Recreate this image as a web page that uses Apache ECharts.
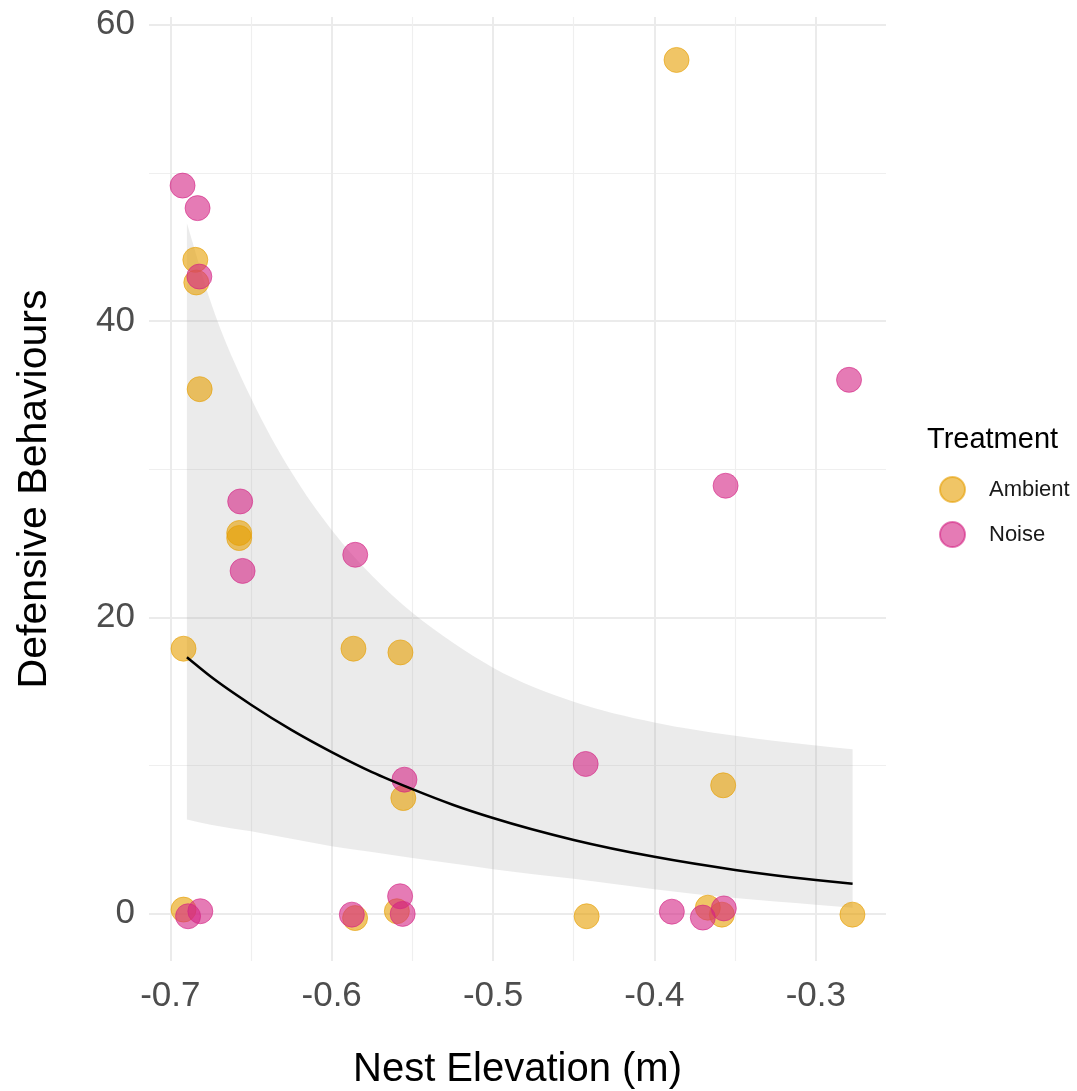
<!DOCTYPE html>
<html>
<head>
<meta charset="utf-8">
<title>Defensive Behaviours vs Nest Elevation</title>
<script src="https://cdn.jsdelivr.net/npm/echarts@6/dist/echarts.min.js"></script>
<style>
  html, body { margin: 0; padding: 0; background: #ffffff; }
  #chart { width: 1077px; height: 1091px; }
</style>
</head>
<body>
<div id="chart"></div>
<script>
// Jittered observations per treatment: [nest elevation (m), defensive behaviours]
const ambientPoints = [
  [-0.3863, 57.62], [-0.6845, 44.13], [-0.6839, 42.60], [-0.6818, 35.40],
  [-0.6573, 25.69], [-0.6573, 25.35], [-0.6918, 17.88], [-0.5865, 17.88],
  [-0.5574, 17.63], [-0.5556, 7.80], [-0.3574, 8.66], [-0.2773, -0.07],
  [-0.4420, -0.18], [-0.6918, 0.27], [-0.5855, -0.30], [-0.5596, 0.16],
  [-0.3669, 0.40], [-0.3582, -0.07]
];
const noisePoints = [
  [-0.6924, 49.14], [-0.6831, 47.62], [-0.6820, 43.00], [-0.6567, 27.82],
  [-0.6552, 23.13], [-0.5854, 24.22], [-0.5549, 9.04], [-0.4426, 10.10],
  [-0.3559, 28.88], [-0.2794, 36.03], [-0.6890, -0.18], [-0.6814, 0.16],
  [-0.5875, -0.07], [-0.5576, 1.17], [-0.5560, -0.02], [-0.3892, 0.13],
  [-0.3700, -0.27], [-0.3570, 0.35]
];

// Fitted trend and its confidence band
const fitX    = [-0.6897, -0.675, -0.65, -0.625, -0.60, -0.575, -0.55, -0.525, -0.50, -0.45, -0.40, -0.35, -0.30, -0.2772];
const fitY    = [17.3, 16.0, 14.1, 12.4, 10.9, 9.55, 8.4, 7.35, 6.45, 4.97, 3.83, 2.95, 2.27, 2.02];
const ciUpper = [46.6, 41.3, 34.8, 29.8, 25.9, 22.8, 20.3, 18.3, 16.6, 14.3, 12.9, 12.0, 11.35, 11.1];
const ciLower = [6.35, 6.0, 5.55, 5.05, 4.55, 4.15, 3.75, 3.38, 3.0, 2.35, 1.65, 1.05, 0.6, 0.4];

const treatments = ['Ambient', 'Noise'];
const treatmentColors = ['#E69F00', '#D42384'];

const xRange = [-0.7132, -0.2565];
const yRange = [-3.2, 60.52];

const FONT = '"Liberation Sans", Arial, Helvetica, sans-serif';

const chart = echarts.init(document.getElementById('chart'), null, { renderer: 'canvas' });

// Cubic Hermite curve through pixel points (x strictly monotone), as bezier path commands
function curveCommands(pts) {
  const n = pts.length;
  const h = [], s = [];
  for (let i = 0; i < n - 1; i++) {
    h.push(pts[i + 1][0] - pts[i][0]);
    s.push((pts[i + 1][1] - pts[i][1]) / h[i]);
  }
  const m = pts.map((p, i) => {
    if (i === 0) return s[0];
    if (i === n - 1) return s[n - 2];
    return (s[i - 1] * h[i] + s[i] * h[i - 1]) / (h[i - 1] + h[i]);
  });
  const segs = [];
  for (let i = 0; i < n - 1; i++) {
    const dx = h[i] / 3;
    segs.push({
      c1: [pts[i][0] + dx, pts[i][1] + m[i] * dx],
      c2: [pts[i + 1][0] - dx, pts[i + 1][1] - m[i + 1] * dx],
      from: pts[i],
      to: pts[i + 1]
    });
  }
  return segs;
}

function forwardPath(segs) {
  return segs.map(g => ' C' + g.c1[0] + ',' + g.c1[1] + ' ' + g.c2[0] + ',' + g.c2[1] + ' ' + g.to[0] + ',' + g.to[1]).join('');
}

function backwardPath(segs) {
  return segs.slice().reverse().map(g => ' C' + g.c2[0] + ',' + g.c2[1] + ' ' + g.c1[0] + ',' + g.c1[1] + ' ' + g.from[0] + ',' + g.from[1]).join('');
}

const pointSeries = (name, data, color) => ({
  name: name,
  type: 'scatter',
  data: data,
  symbol: 'circle',
  symbolSize: 25,
  z: 3,
  itemStyle: { color: color, opacity: 0.6, borderColor: color, borderWidth: 1 },
  emphasis: { disabled: true }
});

const option = {
  animation: false,
  backgroundColor: '#ffffff',
  textStyle: { fontFamily: FONT },
  title: {
    text: 'Treatment',
    left: 927,
    top: 425,
    padding: 0,
    textStyle: { fontFamily: FONT, fontSize: 29, fontWeight: 'normal', color: '#000000' }
  },
  legend: {
    data: treatments,
    orient: 'vertical',
    left: 939,
    top: 476,
    padding: 0,
    itemWidth: 63,
    itemHeight: 25,
    itemGap: 18,
    icon: 'circle',
    selectedMode: false,
    textStyle: { fontFamily: FONT, fontSize: 22, color: '#1A1A1A' }
  },
  grid: { left: 149, top: 17, width: 737, height: 944, containLabel: false, outerBoundsMode: 'none' },
  xAxis: {
    type: 'value',
    min: xRange[0],
    max: xRange[1],
    splitNumber: 5,
    name: 'Nest Elevation (m)',
    nameLocation: 'middle',
    nameGap: 89,
    nameTextStyle: { fontFamily: FONT, fontSize: 40, color: '#000000' },
    axisLine: { show: false },
    axisTick: { show: false },
    axisLabel: {
      fontFamily: FONT, fontSize: 35, color: '#4D4D4D', margin: 18,
      showMinLabel: false, showMaxLabel: false
    },
    splitLine: { show: true, showMinLine: false, showMaxLine: false, lineStyle: { color: '#EBEBEB', width: 2 } },
    minorTick: { show: false, splitNumber: 2 },
    minorSplitLine: { show: true, lineStyle: { color: '#EFEFEF', width: 1.2 } }
  },
  yAxis: {
    type: 'value',
    min: yRange[0],
    max: yRange[1],
    splitNumber: 3,
    name: 'Defensive Behaviours',
    nameLocation: 'middle',
    nameRotate: 90,
    nameGap: 94,
    nameTextStyle: { fontFamily: FONT, fontSize: 41, color: '#000000' },
    axisLine: { show: false },
    axisTick: { show: false },
    axisLabel: {
      fontFamily: FONT, fontSize: 35, color: '#4D4D4D', margin: 14,
      showMinLabel: false, showMaxLabel: false
    },
    splitLine: { show: true, showMinLine: false, showMaxLine: false, lineStyle: { color: '#EBEBEB', width: 2 } },
    minorTick: { show: false, splitNumber: 2 },
    minorSplitLine: { show: true, lineStyle: { color: '#EFEFEF', width: 1.2 } }
  },
  series: [
    // Confidence band: upper edge left to right, lower edge back right to left
    {
      name: 'ci',
      type: 'custom',
      silent: true,
      z: 1,
      data: [[fitX[0], ciLower[0]]],
      renderItem: function (params, api) {
        const upper = fitX.map((x, i) => api.coord([x, ciUpper[i]]));
        const lower = fitX.map((x, i) => api.coord([x, ciLower[i]]));
        const last = lower[lower.length - 1];
        const d = 'M' + upper[0][0] + ',' + upper[0][1] +
          forwardPath(curveCommands(upper)) +
          ' L' + last[0] + ',' + last[1] +
          backwardPath(curveCommands(lower)) + ' Z';
        return {
          type: 'path',
          shape: { pathData: d },
          style: { fill: 'rgba(153,153,153,0.2)', stroke: null }
        };
      }
    },
    pointSeries(treatments[0], ambientPoints, treatmentColors[0]),
    pointSeries(treatments[1], noisePoints, treatmentColors[1]),
    {
      name: 'fit',
      type: 'custom',
      silent: true,
      z: 4,
      data: [[fitX[0], fitY[0]]],
      renderItem: function (params, api) {
        const pts = fitX.map((x, i) => api.coord([x, fitY[i]]));
        const d = 'M' + pts[0][0] + ',' + pts[0][1] + forwardPath(curveCommands(pts));
        return {
          type: 'path',
          shape: { pathData: d },
          style: { fill: null, stroke: '#000000', lineWidth: 2.5 }
        };
      }
    }
  ]
};

chart.setOption(option);
</script>
</body>
</html>
